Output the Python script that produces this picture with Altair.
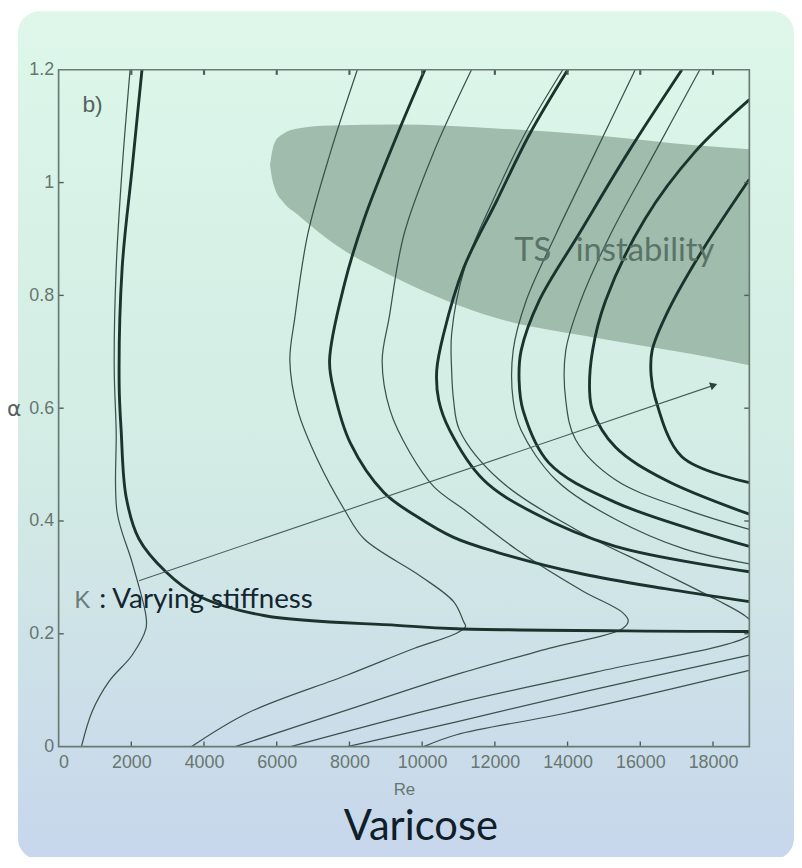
import altair as alt
import pandas as pd

# ---------------- axis ticks ----------------
x_ticks = [0, 2000, 4000, 6000, 8000, 10000, 12000, 14000, 16000, 18000]
y_ticks = [0, 0.2, 0.4, 0.6, 0.8, 1.0, 1.2]

# ---------------- thick curves (Re, alpha) ----------------
B_re = [2293, 2020, 1747, 1665, 1720, 1856, 2211, 2948, 3849, 5678, 9309, 10947, 19000]
B_al = [1.2, 1.024, 0.848, 0.644, 0.561, 0.443, 0.368, 0.310, 0.267, 0.232, 0.215, 0.209, 0.204]

D_re = [10074, 9309, 8408, 7862, 7453, 7589, 8026, 8954, 9855, 10865, 12039, 14414, 16680, 19000]
D_al = [1.2, 1.084, 0.936, 0.820, 0.684, 0.626, 0.538, 0.450, 0.408, 0.371, 0.345, 0.306, 0.280, 0.257]

F_re = [14005, 12940, 12039, 11138, 10592, 10401, 10456, 10756, 11684, 13049, 15315, 19000]
F_al = [1.2, 1.084, 0.966, 0.848, 0.732, 0.667, 0.614, 0.561, 0.473, 0.415, 0.355, 0.310]

I_re = [17144, 15670, 14305, 13213, 12722, 12667, 12776, 13486, 15315, 19000]
I_al = [1.2, 1.054, 0.908, 0.790, 0.702, 0.649, 0.596, 0.503, 0.433, 0.355]

K_re = [19000, 17499, 16134, 15042, 14687, 14606, 14687, 15315, 16680, 19000]
K_al = [1.147, 1.054, 0.936, 0.790, 0.702, 0.632, 0.596, 0.531, 0.473, 0.412]

L_re = [19000, 17690, 16762, 16325, 16298, 16407, 17144, 19000]
L_al = [1.006, 0.878, 0.772, 0.702, 0.658, 0.619, 0.514, 0.468]

# ---------------- thin curves (Re, alpha) ----------------
A_re = [1966, 1747, 1583, 1529, 1583, 1610, 2020, 2402, 2402, 2020, 1392, 928, 628]
A_al = [1.2, 1.024, 0.848, 0.672, 0.561, 0.415, 0.327, 0.232, 0.209, 0.162, 0.116, 0.063, 0.0]

C_re = [8217, 7480, 6852, 6497, 6361, 6579, 7125, 7862, 8408, 9937, 10865, 11138, 11193, 10947, 9773, 7944, 5214, 3658]
C_al = [1.2, 1.054, 0.908, 0.760, 0.684, 0.596, 0.508, 0.420, 0.368, 0.303, 0.257, 0.222, 0.213, 0.201, 0.174, 0.127, 0.060, 0.0]

E_re = [11357, 10319, 9500, 9091, 8900, 9118, 9664, 10319, 11220, 12585, 14414, 15506, 15670, 15506, 13486, 10947, 7944, 4859]
E_al = [1.2, 1.054, 0.908, 0.760, 0.684, 0.596, 0.521, 0.461, 0.417, 0.350, 0.276, 0.238, 0.223, 0.209, 0.174, 0.128, 0.065, 0.0]

G_re = [13868, 12804, 11930, 11166, 10811, 10811, 10865, 11029, 12121, 14223, 16407, 18045, 18919, 19137, 19000, 14769, 10947, 6388]
G_al = [1.2, 1.084, 0.966, 0.848, 0.732, 0.667, 0.614, 0.561, 0.473, 0.385, 0.315, 0.262, 0.230, 0.213, 0.197, 0.132, 0.077, 0.0]

H_up_re = [15861, 14769, 13677, 12858, 12503, 12503, 12722, 13677, 15315, 17226, 19000]
H_up_al = [1.2, 1.054, 0.908, 0.790, 0.702, 0.614, 0.561, 0.473, 0.403, 0.350, 0.324]
H_lo_re = [19000, 14500, 10947, 7944]
H_lo_al = [0.162, 0.098, 0.044, 0.0]

J_up_re = [17636, 16407, 15179, 14360, 13950, 13950, 14223, 15315, 17226, 19000]
J_up_al = [1.2, 1.054, 0.908, 0.790, 0.702, 0.614, 0.544, 0.473, 0.421, 0.385]
J_lo_re = [19000, 14000, 10947, 10046]
J_lo_al = [0.135, 0.060, 0.021, 0.0]

# ---------------- TS instability region ----------------
ts_re = [5815, 5870, 5951, 6170, 6579, 7480, 9309, 12039, 14769, 17499, 19000]
ts_top = [1.031, 1.054, 1.072, 1.086, 1.096, 1.101, 1.103, 1.096, 1.084, 1.066, 1.059]
ts_bot = [1.031, 1.008, 0.989, 0.966, 0.943, 0.896, 0.830, 0.760, 0.725, 0.695, 0.676]

# ---------------- arrow (varying stiffness) ----------------
arrow_re = [2211, 17991]
arrow_al = [0.294, 0.640]

thick = {"B": (B_re, B_al), "D": (D_re, D_al), "F": (F_re, F_al),
         "I": (I_re, I_al), "K": (K_re, K_al), "L": (L_re, L_al)}
thin = {"A": (A_re, A_al), "C": (C_re, C_al), "E": (E_re, E_al), "G": (G_re, G_al),
        "H1": (H_up_re, H_up_al), "H2": (H_lo_re, H_lo_al),
        "J1": (J_up_re, J_up_al), "J2": (J_lo_re, J_lo_al)}


def to_df(d):
    rows = []
    for name, (res, als) in d.items():
        for i, (r, a) in enumerate(zip(res, als)):
            rows.append({"curve": name, "i": i, "Re": r, "alpha": a})
    return pd.DataFrame(rows)


df_thick = to_df(thick)
df_thin = to_df(thin)
df_ts = pd.DataFrame({"Re": ts_re, "top": ts_top, "bot": ts_bot})
df_arrow = pd.DataFrame({"Re": arrow_re, "alpha": arrow_al, "i": [0, 1]})
df_xt = pd.DataFrame({"v": x_ticks[1:]})
df_yt = pd.DataFrame({"v": y_ticks[1:-1]})
one = pd.DataFrame({"t": [0]})

W, H = 696, 682
xs = alt.Scale(domain=[0, 19000], nice=False, zero=False)
ys = alt.Scale(domain=[0, 1.2], nice=False, zero=False)
lab_col = "#67766f"
x_axis = alt.Axis(values=x_ticks, format="d", title="Re", grid=False, ticks=False, domain=False,
                  zindex=1, labelFont="Liberation Sans", labelFontSize=18, labelColor=lab_col,
                  labelPadding=7, titleFont="Liberation Sans", titleFontSize=17,
                  titleFontWeight="normal", titleColor=lab_col, titlePadding=10)
y_axis = alt.Axis(values=y_ticks, format="~g", title="α", grid=False, ticks=False, domain=False,
                  zindex=1, labelFont="Liberation Sans", labelFontSize=18, labelColor=lab_col,
                  labelPadding=5, titleFont="DejaVu Sans", titleFontSize=22,
                  titleFontWeight="normal", titleColor="#55625e", titleAngle=0,
                  titleX=-38, titleY=341, titleAlign="right", titleBaseline="middle")

X = lambda f: alt.X(f, type="quantitative", scale=xs, axis=x_axis)
Y = lambda f: alt.Y(f, type="quantitative", scale=ys, axis=y_axis)

bg = alt.Chart(one).mark_rect(
    cornerRadius=22,
    color=alt.Gradient(gradient="linear",
                       stops=[alt.GradientStop(color="#def7ea", offset=0),
                              alt.GradientStop(color="#d2ebe4", offset=0.55),
                              alt.GradientStop(color="#c7d6ec", offset=1)],
                       x1=0, x2=0, y1=0, y2=1)
).encode(x=alt.value(-41), x2=alt.value(741), y=alt.value(-59), y2=alt.value(796))

ts = alt.Chart(df_ts).mark_area(interpolate="monotone", color="#9fbcad", clip=True).encode(
    x=X("Re"), y=Y("top"), y2="bot")

thin_l = alt.Chart(df_thin).mark_line(interpolate="catmull-rom", color="#3a524b",
                                      strokeWidth=1.25, clip=True).encode(
    x=X("Re"), y=Y("alpha"), detail="curve:N", order="i:Q")

thick_l = alt.Chart(df_thick).mark_line(interpolate="catmull-rom", color="#1a332d",
                                        strokeWidth=2.9, clip=True).encode(
    x=X("Re"), y=Y("alpha"), detail="curve:N", order="i:Q")

arrow_l = alt.Chart(df_arrow).mark_line(color="#4a5e57", strokeWidth=1.1).encode(
    x=X("Re"), y=Y("alpha"), order="i:Q")
arrow_h = alt.Chart(df_arrow.iloc[[1]]).mark_point(shape="triangle", angle=71, size=70,
                                                   filled=True, color="#2e423c", opacity=1).encode(
    x=X("Re"), y=Y("alpha"))

tick_col = "#4d5f59"
tb = alt.Chart(df_xt).mark_rule(color=tick_col, strokeWidth=1.4).encode(
    x=X("v"), y=alt.datum(0, scale=ys), y2=alt.datum(0.009))
tt = alt.Chart(df_xt).mark_rule(color=tick_col, strokeWidth=2.2).encode(
    x=X("v"), y=alt.datum(1.2, scale=ys), y2=alt.datum(1.191))
tl = alt.Chart(df_yt).mark_rule(color=tick_col, strokeWidth=1.4).encode(
    y=Y("v"), x=alt.datum(0, scale=xs), x2=alt.datum(140))
tr = alt.Chart(df_yt).mark_rule(color=tick_col, strokeWidth=1.4).encode(
    y=Y("v"), x=alt.datum(19000, scale=xs), x2=alt.datum(18860))

frame = alt.Chart(one).mark_rect(fillOpacity=0, stroke="#6a7b74", strokeWidth=1.7).encode(
    x=alt.datum(0, scale=xs), x2=alt.datum(19000), y=alt.datum(0, scale=ys), y2=alt.datum(1.2))

t_b = alt.Chart(one).mark_text(text="b)", font="Liberation Sans", fontSize=23, color="#56625e",
                               align="left", baseline="alphabetic").encode(
    x=alt.value(24), y=alt.value(43))
t_ts1 = alt.Chart(one).mark_text(text="TS", font="Lato", fontSize=33, color="#5a7367",
                                 align="left", baseline="alphabetic").encode(
    x=alt.value(459), y=alt.value(193))
t_ts2 = alt.Chart(one).mark_text(text="instability", font="Lato", fontSize=33, color="#5a7367",
                                 align="left", baseline="alphabetic").encode(
    x=alt.value(521), y=alt.value(193))
t_k = alt.Chart(one).mark_text(text="K", font="Liberation Sans", fontSize=24,
                               color="#6d7a76", align="left", baseline="alphabetic").encode(
    x=alt.value(16), y=alt.value(542))
t_vs = alt.Chart(one).mark_text(text=": Varying stiffness", font="Lato", fontSize=28,
                                color="#142530", align="left", baseline="alphabetic").encode(
    x=alt.value(41), y=alt.value(542))
t_var = alt.Chart(one).mark_text(text="Varicose", font="Lato", fontSize=42, color="#0f1e28",
                                 align="center", baseline="alphabetic").encode(
    x=alt.value(365), y=alt.value(776))

chart = alt.layer(
    bg, ts, thin_l, thick_l, arrow_l, arrow_h, tb, tt, tl, tr, frame,
    t_b, t_ts1, t_ts2, t_k, t_vs, t_var
).properties(
    width=W, height=H,
    autosize=alt.AutoSizeParams(type="none"),
    padding={"left": 51, "top": 59, "right": 45, "bottom": 108},
).configure_view(stroke=None).configure(background="white")

chart.save("out.html", embed_options={"renderer": "svg", "actions": False})
